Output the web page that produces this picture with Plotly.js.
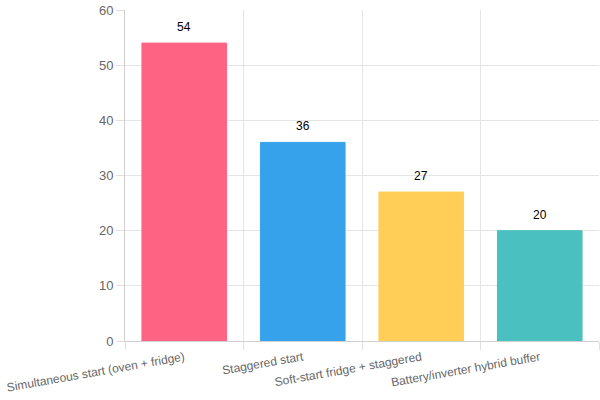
<!DOCTYPE html>
<html>
<head>
<meta charset="utf-8">
<script src="https://cdn.plot.ly/plotly-3.0.1.min.js"></script>
<style>
  html, body { margin: 0; padding: 0; background: #fff; }
  #chart { width: 600px; height: 400px; }
</style>
</head>
<body>
<div id="chart"></div>
<script>
const categories = [
  "Simultaneous start (oven + fridge)",
  "Staggered start",
  "Soft-start fridge + staggered",
  "Battery/inverter hybrid buffer"
];
const values = [54, 36, 27, 20];
const barColors = ["#FF6384", "#36A2EB", "#FFCE56", "#4BC0C0"];
const yTicks = [0, 10, 20, 30, 40, 50, 60];

const trace = {
  type: "bar",
  x: categories,
  y: values,
  marker: {
    color: barColors,
    line: { color: barColors, width: 1 }
  },
  hoverinfo: "none"
};

// value labels above each bar
const valueLabels = categories.map((c, i) => ({
  x: c,
  y: values[i],
  xref: "x",
  yref: "y",
  text: String(values[i]),
  showarrow: false,
  yanchor: "bottom",
  yshift: 7,
  font: { family: "Liberation Sans, Arial, sans-serif", size: 12, color: "#000" }
}));

const layout = {
  width: 600,
  height: 400,
  margin: { l: 125, r: 1, t: 10, b: 59 },
  paper_bgcolor: "#fff",
  plot_bgcolor: "#fff",
  bargap: 0.286,
  showlegend: false,
  font: { family: "Liberation Sans, Arial, sans-serif", color: "#666" },
  annotations: valueLabels,
  xaxis: {
    type: "category",
    tickson: "boundaries",
    showgrid: true,
    gridcolor: "#e5e5e5",
    gridwidth: 1,
    showline: true,
    linecolor: "#d0d0d0",
    ticks: "outside",
    ticklen: 8,
    tickcolor: "#e0e0e0",
    tickangle: -10,
    ticklabelstandoff: 4,
    tickfont: { size: 12, color: "#666" },
    zeroline: false
  },
  yaxis: {
    range: [0, 60],
    tickvals: yTicks,
    showgrid: true,
    gridcolor: "#e5e5e5",
    showline: true,
    linecolor: "#d0d0d0",
    ticks: "outside",
    ticklen: 8,
    tickcolor: "#e0e0e0",
    tickfont: { size: 13, color: "#666" },
    zeroline: false
  }
};

Plotly.newPlot("chart", [trace], layout, { displayModeBar: false, staticPlot: true });
</script>
</body>
</html>
